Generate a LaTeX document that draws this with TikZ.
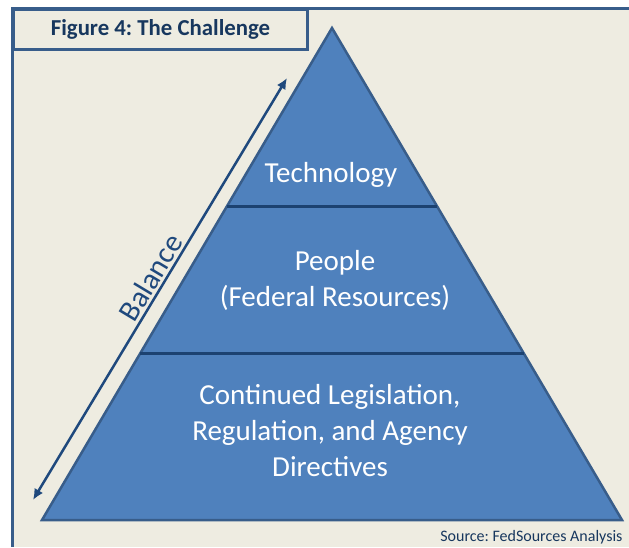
\documentclass[tikz,border=0pt]{standalone}
\usepackage{fontspec}
\setmainfont{Carlito}
\frenchspacing
\usetikzlibrary{calc,arrows.meta}
\definecolor{paper}{HTML}{EEECE1}
\definecolor{tierfill}{HTML}{4F81BD}
\definecolor{tierline}{HTML}{385D8A}
\definecolor{navy}{HTML}{1F497D}
\definecolor{titletext}{HTML}{17375E}
\begin{document}
\begin{tikzpicture}[x=1pt,y=-1pt,
  >={Latex[length=11pt,width=10pt]},
  frame/.style={draw=tierline, line width=3pt},
  divider/.style={draw=navy!90!black, line width=3pt},
  tier/.style={text=white, align=center, font=\fontsize{29}{36}\selectfont}]
\useasboundingbox (0,0) rectangle (629,547);
\fill[paper] (12,8) rectangle (629,547);
\draw[frame] (629,8) -- (12,8) -- (12,547);
\node[frame, fill=paper, anchor=north west, minimum width=294pt, minimum height=40pt,
  text=titletext, font=\bfseries\fontsize{22.8}{26}\selectfont] (title) at (12,8)
  {Figure 4: The Challenge};

\coordinate (apex) at (332,28);
\coordinate (left) at (42,520);
\coordinate (right) at (622,520);
\draw[fill=tierfill, draw=tierline, line width=2.5pt] (apex) -- (right) -- (left) -- cycle;
\coordinate (upl) at ($(apex)!0.362!(left)$);
\coordinate (upr) at ($(apex)!0.362!(right)$);
\coordinate (lowl) at ($(apex)!0.661!(left)$);
\coordinate (lowr) at ($(apex)!0.661!(right)$);
\draw[divider] (upl) -- (upr);
\draw[divider] (lowl) -- (lowr);

\node[tier, anchor=base] (tech) at (331,182) {Technology};
\node[tier] (people) at (335,280) {People\\(Federal Resources)};
\node[tier] (rules) at (330,431) {Continued Legislation,\\Regulation, and Agency\\Directives};

\coordinate (lo) at (33,500);
\coordinate (hi) at (287,78);
\draw[navy, line width=2.5pt, <->] (lo) -- node[sloped, above, pos=0.51, inner sep=2pt,
  text=navy, font=\fontsize{30}{34}\selectfont] (balance) {Balance} (hi);

\node[anchor=base east, text=titletext, font=\fontsize{16}{18}\selectfont] (source)
  at (626,541) {Source: FedSources Analysis};
\end{tikzpicture}
\end{document}
